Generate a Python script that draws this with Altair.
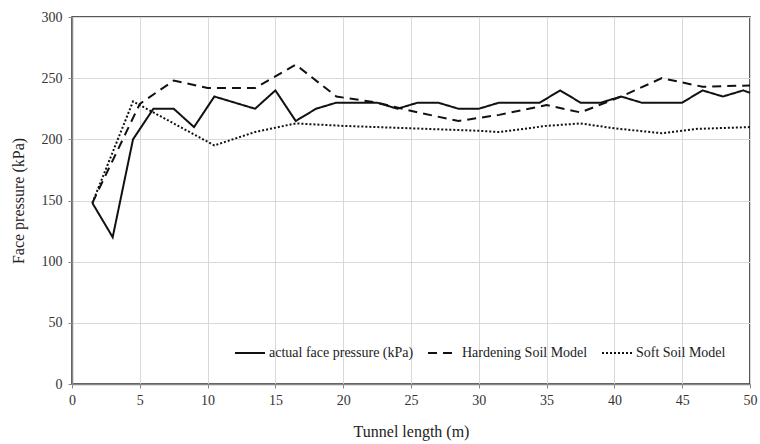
import altair as alt
import pandas as pd

actual_x = [1.5, 3, 4.5, 6, 7.5, 9, 10.5, 12, 13.5, 15, 16.5, 18, 19.5, 21, 22.5, 24, 25.5, 27,
            28.5, 30, 31.5, 33, 34.5, 36, 37.5, 39, 40.5, 42, 43.5, 45, 46.5, 48, 49.5, 50]
actual_y = [148, 120, 200, 225, 225, 210, 235, 230, 225, 240, 215, 225, 230, 230, 230, 225, 230, 230,
            225, 225, 230, 230, 230, 240, 230, 230, 235, 230, 230, 230, 240, 235, 240, 238]

hs_x = [1.5, 5, 7.5, 10, 13.5, 16.5, 19.5, 22.5, 25.5, 28.5, 31.5, 35, 37.5, 40.5, 43.5, 46.5, 50]
hs_y = [148, 229, 248, 242, 242, 261, 235, 230, 222, 215, 220, 228, 222, 235, 250, 243, 244]

ss_x = [1.5, 4.5, 10.5, 13.5, 16.5, 20, 25, 30, 31.5, 35, 37.5, 40, 43.5, 46, 50]
ss_y = [148, 231, 195, 206, 213, 211, 209, 207, 206, 211, 213, 209, 205, 208.5, 210]

series_names = ["actual face pressure (kPa)", "Hardening Soil Model", "Soft Soil Model"]

df = pd.concat([
    pd.DataFrame({"x": actual_x, "y": actual_y, "s": series_names[0]}),
    pd.DataFrame({"x": hs_x, "y": hs_y, "s": series_names[1]}),
    pd.DataFrame({"x": ss_x, "y": ss_y, "s": series_names[2]}),
])

FONT = "Liberation Serif"

chart = alt.Chart(df).mark_line(strokeWidth=2, color="#111111").encode(
    x=alt.X("x:Q", scale=alt.Scale(domain=[0, 50], nice=False, zero=False),
            axis=alt.Axis(title="Tunnel length (m)", values=list(range(0, 51, 5)),
                          labelPadding=5, titlePadding=16, labelFlush=False)),
    y=alt.Y("y:Q", scale=alt.Scale(domain=[0, 300], nice=False),
            axis=alt.Axis(title="Face pressure (kPa)", values=list(range(0, 301, 50)),
                          labelPadding=6, titlePadding=15, labelFlush=False)),
    strokeDash=alt.StrokeDash("s:N",
        scale=alt.Scale(domain=series_names, range=[[1, 0], [9, 6], [2, 2]]),
        legend=alt.Legend(title=None, orient="none", legendX=162, legendY=320,
                          direction="horizontal", symbolType="stroke",
                          symbolStrokeColor="#111111", symbolStrokeWidth=2,
                          symbolSize=900, labelFont=FONT, labelFontSize=14,
                          labelColor="#222222", labelOffset=3, columnPadding=10,
                          labelLimit=300)),
    detail="s:N",
    order="x:Q",
).properties(
    width=678, height=367,
    autosize=alt.AutoSizeParams(type="none"),
    padding={"left": 72, "top": 17, "right": 10, "bottom": 60},
).configure_view(
    stroke="#222222", strokeWidth=1.5,
).configure_axis(
    labelFont=FONT, titleFont=FONT, labelFontSize=14, titleFontSize=16,
    titleFontWeight="normal", labelColor="#333333", titleColor="#222222",
    gridColor="#d9d9d9", gridWidth=1, domainColor="#888888", domainWidth=1.5,
    tickColor="#888888", tickSize=4,
)

chart.save("out.html", embed_options={"renderer": "svg", "actions": False})
